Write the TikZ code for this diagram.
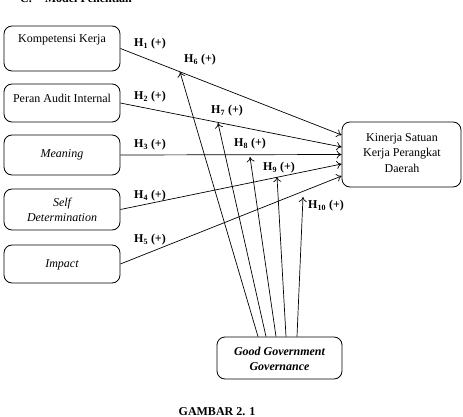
\documentclass[tikz,border=0pt]{standalone}
\usepackage{fontspec}
\setmainfont{Liberation Serif}
\usetikzlibrary{arrows.meta}
\begin{document}
\begin{tikzpicture}[x=1pt,y=-1pt,
  font=\fontsize{12}{15.5}\selectfont,
  box/.style={draw, rounded corners=8pt, line width=0.8pt, inner sep=0pt},
  txt/.style={inner sep=0pt, align=center},
  hyp/.style={inner sep=0pt, font=\fontsize{12}{14}\selectfont\bfseries},
  arr/.style={-{To[length=5pt,width=8pt]}, line width=0.7pt}]
\useasboundingbox (0,0) rectangle (463,417);
% title (cut at top)
\node[anchor=base west, inner sep=0pt, font=\fontsize{12}{14}\selectfont\bfseries] (title) at (20,2.5) {C.\hspace{13pt}Model Penelitian};
% left boxes
\node[box, minimum width=116pt, minimum height=45pt] (kk) at (62,48.5) {};
\node[box, minimum width=116pt, minimum height=38pt] (pai) at (62,103) {};
\node[box, minimum width=116pt, minimum height=40pt] (mea) at (62,155) {};
\node[box, minimum width=116pt, minimum height=41pt] (sd) at (62,209.5) {};
\node[box, minimum width=116pt, minimum height=38pt] (imp) at (62,264) {};
\node[txt] (tkk) at (62,40) {Kompetensi Kerja};
\node[txt] (tpai) at (62,98) {Peran Audit Internal};
\node[txt] (tmea) at (62,155) {\itshape Meaning};
\node[txt] (tsd) at (62,210) {\itshape Self\\\itshape Determination};
\node[txt] (timp) at (62,265) {\itshape Impact};
% right box
\node[box, minimum width=119pt, minimum height=65pt] (kin) at (401.5,154.5) {};
\node[txt] (tkin) at (402,153) {Kinerja Satuan\\Kerja Perangkat\\Daerah};
% bottom box
\node[box, minimum width=125pt, minimum height=42pt] (ggg) at (279.5,358) {};
\node[txt, font=\fontsize{12}{15.5}\selectfont\bfseries\itshape] (tggg) at (279.5,359) {Good Government\\Governance};
% arrows to Kinerja
\draw[arr] (kk.east) -- ([yshift=19.5pt]kin.west);
\draw[arr] (pai.east) -- ([yshift=7.5pt]kin.west);
\draw[arr] (mea.east) -- (kin.west);
\draw[arr] (sd.east) -- ([yshift=-9.5pt]kin.west);
\draw[arr] (imp.east) -- ([yshift=-21.5pt]kin.west);
% moderation tips
\coordinate (t6) at (180,72);
\coordinate (t7) at (218,123);
\coordinate (t8) at (250,157);
\coordinate (t9) at (277,177);
\coordinate (t10) at (303,197);
\draw[arr] ([xshift=-21.5pt]ggg.north) -- (t6);
\draw[arr] ([xshift=-13.5pt]ggg.north) -- (t7);
\draw[arr] ([xshift=-3.5pt]ggg.north) -- (t8);
\draw[arr] ([xshift=6.5pt]ggg.north) -- (t9);
\draw[arr] ([xshift=17.5pt]ggg.north) -- (t10);
% hypothesis labels
\node[hyp] (h1) at (150,44) {H\textsubscript{1} (+)};
\node[hyp] (h2) at (150,97) {H\textsubscript{2} (+)};
\node[hyp] (h3) at (150,145) {H\textsubscript{3} (+)};
\node[hyp] (h4) at (150,196) {H\textsubscript{4} (+)};
\node[hyp] (h5) at (150,240) {H\textsubscript{5} (+)};
\node[hyp] (h6) at (200,60) {H\textsubscript{6} (+)};
\node[hyp] (h7) at (227,111) {H\textsubscript{7} (+)};
\node[hyp] (h8) at (250,144) {H\textsubscript{8} (+)};
\node[hyp] (h9) at (279,168) {H\textsubscript{9} (+)};
\node[hyp] (h10) at (326,206) {H\textsubscript{10} (+)};
% caption
\node[inner sep=0pt, font=\fontsize{12}{14}\selectfont\bfseries] (cap) at (217,412) {GAMBAR 2. 1};
\end{tikzpicture}
\end{document}
